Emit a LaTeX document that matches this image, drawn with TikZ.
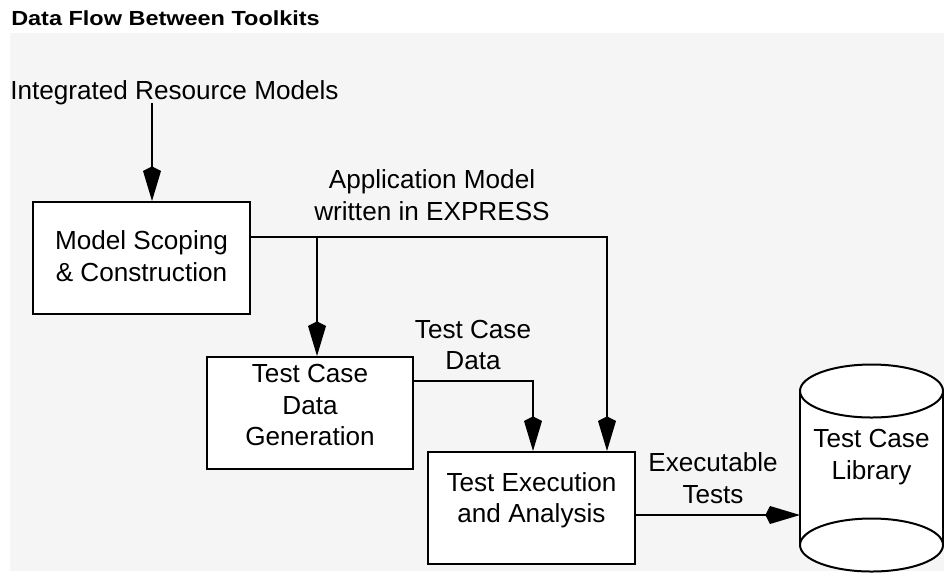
\documentclass[tikz,border=0pt]{standalone}
\usepackage{fontspec}
\setmainfont{Liberation Sans}
\newfontfamily\titlefont{Liberation Sans}[FakeStretch=1.15]
\usetikzlibrary{arrows.meta}
\definecolor{bgcol}{RGB}{245,245,245}
\begin{document}
\begin{tikzpicture}[x=0.75pt,y=-0.75pt,
  box/.style={draw,line width=1.5pt,fill=white,inner sep=0pt},
  lbl/.style={align=center,inner sep=0pt,font=\fontsize{19.6pt}{23.5pt}\selectfont},
  conn/.style={line width=1.2pt},
  arr/.style={conn,-{Kite[length=26pt,width=13.5pt,inset=3.5pt]}}]
\useasboundingbox (0,0) rectangle (944,576);
\fill[bgcol] (10,33) rectangle (944,571);
\node[anchor=west,inner sep=0pt,font=\titlefont\fontsize{15.3pt}{18pt}\selectfont\bfseries] (title) at (11,18) {Data Flow Between Toolkits};
\node[lbl,anchor=west] (irm) at (10,93) {Integrated Resource Models};
% boxes
\node[box,minimum width=217*0.75pt,minimum height=112*0.75pt] (ms) at (141.5,258) {};
\node[lbl] (mst) at (141.5,256) {Model Scoping\\\& Construction};
\node[box,minimum width=206*0.75pt,minimum height=112*0.75pt] (tcdg) at (310,413) {};
\node[lbl] (tcdgt) at (310,405) {Test Case\\Data\\Generation};
\node[box,minimum width=207*0.75pt,minimum height=112*0.75pt] (tea) at (531.5,508) {};
\node[lbl] (teat) at (531.5,500) {Test Execution\\and Analysis};
% cylinder
\fill[white] (800,391) rectangle (943,545);
\draw[box] (871.5,545) ellipse [x radius=71.5, y radius=26.5];
\draw[line width=1.5pt] (800,391) -- (800,545) (943,391) -- (943,545);
\draw[box] (871.5,391) ellipse [x radius=71.5, y radius=26.5];
\node[lbl] (lib) at (871.5,457) {Test Case\\Library};
% labels
\node[lbl] (amlbl) at (432,195) {Application Model\\written in EXPRESS};
\node[lbl] (tcdlbl) at (473,345) {Test Case\\Data};
\node[lbl] (etlbl) at (713,478) {Executable\\Tests};
% connectors
\coordinate (irmB) at (152,103);
\coordinate (j1) at (317,237);
\coordinate (j2) at (607,237);
\coordinate (j3) at (533,381);
\coordinate (cylL) at (800,515);
\draw[arr] (irmB) -- (irmB |- ms.north);
\draw[arr] (ms.east |- j1) -- (j2) -- (j2 |- tea.north);
\draw[arr] (j1) -- (j1 |- tcdg.north);
\draw[arr] (tcdg.east |- j3) -- (j3) -- (j3 |- tea.north);
\draw[arr] (tea.east |- cylL) -- (cylL);
\end{tikzpicture}
\end{document}
